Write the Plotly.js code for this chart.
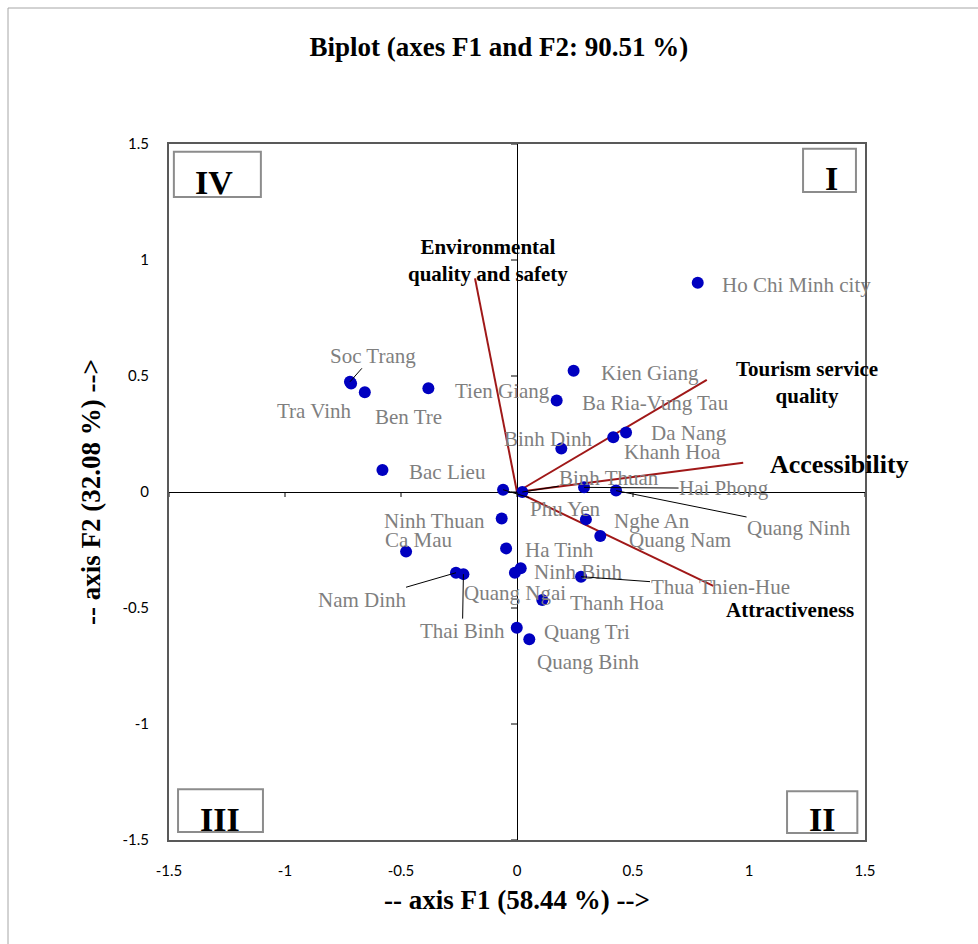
<!DOCTYPE html>
<html>
<head>
<meta charset="utf-8">
<script src="https://cdn.plot.ly/plotly-3.0.1.min.js"></script>
<style>
  html, body { margin: 0; padding: 0; background: #ffffff; }
  #chart { width: 978px; height: 944px; }
</style>
</head>
<body>
<div id="chart"></div>
<script>
// ---------------- DATA ----------------
const provinces = [
  "Ho Chi Minh city", "Kien Giang", "Ba Ria-Vung Tau", "Da Nang", "Khanh Hoa",
  "Binh Dinh", "Binh Thuan", "Hai Phong", "Quang Ninh", "Phu Yen",
  "Nghe An", "Quang Nam", "Ha Tinh", "Ninh Binh", "Quang Ngai",
  "Thua Thien-Hue", "Thanh Hoa", "Quang Tri", "Quang Binh", "Ninh Thuan",
  "Ca Mau", "Nam Dinh", "Thai Binh", "Soc Trang", "Tra Vinh",
  "Ben Tre", "Tien Giang", "Bac Lieu"
];
const f1Scores = [
  0.779, 0.244, 0.171, 0.470, 0.415,
  0.191, 0.023, 0.289, 0.427, -0.060,
  0.297, 0.359, -0.047, 0.016, -0.009,
  0.276, 0.109, -0.001, 0.053, -0.066,
  -0.478, -0.263, -0.231, -0.720, -0.715,
  -0.656, -0.382, -0.580
];
const f2Scores = [
  0.902, 0.523, 0.394, 0.256, 0.236,
  0.187, 0.000, 0.020, 0.006, 0.010,
  -0.118, -0.190, -0.243, -0.329, -0.348,
  -0.365, -0.466, -0.585, -0.635, -0.114,
  -0.257, -0.348, -0.354, 0.475, 0.468,
  0.430, 0.447, 0.095
];

const variables = [
  "Environmental<br>quality and safety",
  "Tourism service<br>quality",
  "Accessibility",
  "Attractiveness"
];
const varF1 = [-0.181, 0.818, 0.975, 0.846];
const varF2 = [0.921, 0.483, 0.126, -0.405];

const tickValues = [-1.5, -1, -0.5, 0, 0.5, 1, 1.5];
const tickLabels = ["-1.5", "-1", "-0.5", "0", "0.5", "1", "1.5"];

const quadrantLabels = ["IV", "I", "III", "II"];

// ---------------- LABEL PLACEMENT (pixels) ----------------
// [anchor, dx, dy(screen, down positive), leader]
const labelPlacement = {
  "Ho Chi Minh city": ["left", 22, 2, false],
  "Kien Giang": ["left", 25, 2, false],
  "Ba Ria-Vung Tau": ["left", 23, 2, false],
  "Da Nang": ["left", 23, 0, false],
  "Khanh Hoa": ["left", 9, 15, false],
  "Binh Dinh": ["center", -13, -10, false],
  "Binh Thuan": ["center", 87, -14, true],
  "Hai Phong": ["center", 140, 1, true],
  "Quang Ninh": ["center", 183, 37, true],
  "Phu Yen": ["center", 62, 19, true],
  "Nghe An": ["left", 26, 2, false],
  "Quang Nam": ["left", 27, 4, false],
  "Ha Tinh": ["left", 17, 2, false],
  "Ninh Binh": ["left", 11, 4, false],
  "Quang Ngai": ["center", 0, 20, false],
  "Thua Thien-Hue": ["center", 139, 10, true],
  "Thanh Hoa": ["left", 26, 3, false],
  "Quang Tri": ["left", 25, 4, false],
  "Quang Binh": ["left", 6, 23, false],
  "Ninh Thuan": ["right", -15, 3, false],
  "Ca Mau": ["left", -23, -12, false],
  "Nam Dinh": ["center", -93, 27, true],
  "Thai Binh": ["center", -1, 57, true],
  "Soc Trang": ["center", 23, -26, true],
  "Tra Vinh": ["right", 3, 28, false],
  "Ben Tre": ["left", 8, 25, false],
  "Tien Giang": ["left", 25, 3, false],
  "Bac Lieu": ["left", 25, 2, false]
};
// [anchor, dx, dy, size]
const varLabelPlacement = [
  ["center", 13, -18, 21],
  ["center", 100, 3, 21],
  ["left", 25, 2, 26],
  ["center", 77, 24, 21]
];
// quadrant boxes in paper coords [x0, x1, y0, y1, textX, textY]
const quadBoxes = [
  [0.007, 0.132, 0.924, 0.989, 0.064, 0.945],
  [0.911, 0.987, 0.931, 0.993, 0.952, 0.950],
  [0.013, 0.135, 0.0115, 0.073, 0.073, 0.030],
  [0.888, 0.989, 0.010, 0.070, 0.938, 0.029]
];

// ---------------- TRACES ----------------
const serif = "'Liberation Serif', 'Times New Roman', serif";
const VEC_COLOR = "#A01818";
const traces = [];

variables.forEach((v, i) => {
  traces.push({
    type: "scatter", mode: "lines",
    x: [0, varF1[i]], y: [0, varF2[i]],
    line: { color: VEC_COLOR, width: 2 },
    hoverinfo: "skip", showlegend: false
  });
});

traces.push({
  type: "scatter", mode: "markers",
  x: f1Scores, y: f2Scores, text: provinces,
  marker: { color: "#0000C0", size: 12 },
  hoverinfo: "text", showlegend: false
});

// ---------------- ANNOTATIONS ----------------
const annotations = [];
provinces.forEach((p, i) => {
  const [anchor, dx, dy, leader] = labelPlacement[p];
  const base = {
    x: f1Scores[i], y: f2Scores[i], xref: "x", yref: "y",
    text: p, font: { family: serif, size: 21, color: "#7F7F7F" },
    yanchor: "middle"
  };
  if (leader) {
    Object.assign(base, {
      showarrow: true, arrowhead: 0, arrowwidth: 1, arrowcolor: "#000000",
      ax: dx, ay: dy, standoff: 0, xanchor: "center", borderpad: 0
    });
  } else {
    Object.assign(base, {
      showarrow: false, xanchor: anchor, xshift: dx, yshift: -dy
    });
  }
  annotations.push(base);
});

variables.forEach((v, i) => {
  const [anchor, dx, dy, size] = varLabelPlacement[i];
  annotations.push({
    x: varF1[i], y: varF2[i], xref: "x", yref: "y",
    text: "<b>" + v + "</b>", showarrow: false,
    xanchor: anchor, yanchor: "middle", xshift: dx, yshift: -dy,
    font: { family: serif, size: size, color: "#000000" }
  });
});

const shapes = [];
quadrantLabels.forEach((q, i) => {
  const b = quadBoxes[i];
  shapes.push({
    type: "rect", xref: "paper", yref: "paper",
    x0: b[0], x1: b[1], y0: b[2], y1: b[3],
    line: { color: "#8C8C8C", width: 2 }, fillcolor: "rgba(0,0,0,0)"
  });
  annotations.push({
    xref: "paper", yref: "paper", x: b[4], y: b[5],
    text: "<b>" + q + "</b>", showarrow: false,
    xanchor: "center", yanchor: "middle",
    font: { family: serif, size: 34, color: "#000000" }
  });
});

// ticks along the zero lines
tickValues.forEach(t => {
  shapes.push({
    type: "line", xref: "x", yref: "y", x0: t, x1: t,
    ysizemode: "pixel", yanchor: 0, y0: 0, y1: -5,
    line: { color: "#000000", width: 1 }
  });
  shapes.push({
    type: "line", xref: "x", yref: "y", y0: t, y1: t,
    xsizemode: "pixel", xanchor: 0, x0: 0, x1: -6,
    line: { color: "#000000", width: 1 }
  });
});

// outer figure frame
shapes.push({
  type: "rect", xref: "paper", yref: "paper",
  x0: -0.2313, x1: 1.2, y0: -0.2, y1: 1.1954,
  line: { color: "#A6A6A6", width: 1 }, fillcolor: "rgba(0,0,0,0)", layer: "below"
});

// ---------------- LAYOUT ----------------
const axisCommon = {
  range: [-1.5, 1.5],
  tickvals: tickValues, ticktext: tickLabels,
  showgrid: false,
  zeroline: true, zerolinecolor: "#000000", zerolinewidth: 1,
  showline: true, mirror: true, linecolor: "#595959", linewidth: 2,
  ticks: "outside", tickcolor: "rgba(0,0,0,0)",
  tickfont: { family: "Lato, 'Liberation Sans', sans-serif", size: 15, color: "#000000" },
  automargin: false, fixedrange: true
};

const layout = {
  width: 978, height: 944,
  margin: { l: 169, r: 113, t: 144, b: 104 },
  paper_bgcolor: "#ffffff", plot_bgcolor: "#ffffff",
  title: {
    text: "<b>Biplot (axes F1 and F2: 90.51 %)</b>",
    font: { family: serif, size: 27, color: "#000000" },
    x: 0.510, xanchor: "center", y: 0.951, yanchor: "middle"
  },
  xaxis: Object.assign({}, axisCommon, {
    ticklen: 16,
    title: { text: "<b>-- axis F1 (58.44 %) --></b>", font: { family: serif, size: 27, color: "#000000" }, standoff: 12 }
  }),
  yaxis: Object.assign({}, axisCommon, {
    ticklen: 15,
    title: { text: "<b>-- axis F2 (32.08 %) --></b>", font: { family: serif, size: 27, color: "#000000" }, standoff: 14 }
  }),
  shapes: shapes,
  annotations: annotations,
  showlegend: false
};

Plotly.newPlot("chart", traces, layout, { displayModeBar: false, staticPlot: true });
</script>
</body>
</html>
